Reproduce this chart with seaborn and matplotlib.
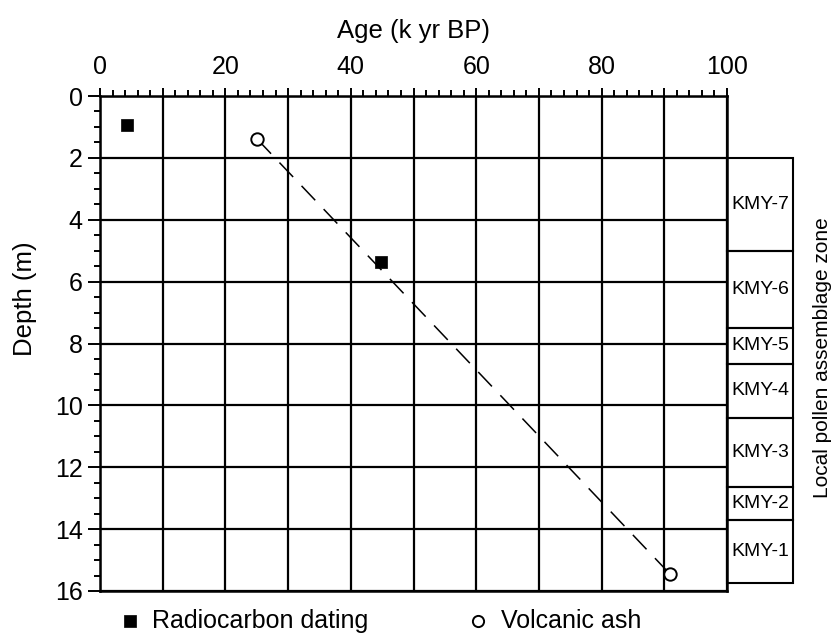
import numpy as np
import pandas as pd
import matplotlib
matplotlib.use("Agg")
import matplotlib.pyplot as plt
from matplotlib.ticker import MultipleLocator, FixedLocator
import seaborn as sns

# === Data ===
radiocarbon_age = [4.3, 44.8]
radiocarbon_depth = [0.95, 5.35]
ash_age = [25.1, 90.9]
ash_depth = [1.4, 15.45]

zone_names = ['KMY-7', 'KMY-6', 'KMY-5', 'KMY-4', 'KMY-3', 'KMY-2', 'KMY-1']
zone_tops = [2.0, 5.0, 7.5, 8.65, 10.4, 12.65, 13.7]
zone_bottoms = [5.0, 7.5, 8.65, 10.4, 12.65, 13.7, 15.75]

x_ticks = [0, 10, 20, 30, 40, 50, 60, 70, 80, 90, 100]
x_tick_labels = ['0', '', '20', '', '40', '', '60', '', '80', '', '100']
y_ticks = [0, 2, 4, 6, 8, 10, 12, 14, 16]

zones = pd.DataFrame({'zone': zone_names, 'top': zone_tops, 'bottom': zone_bottoms})
zones['mid'] = (zones['top'] + zones['bottom']) / 2
zones['height'] = zones['bottom'] - zones['top']

# === Plot Setup ===
sns.set_theme(style="white")
plt.rcParams['font.family'] = ['Liberation Sans', 'DejaVu Sans']
plt.rcParams.update({
    'axes.edgecolor': 'black',
    'axes.linewidth': 1.8,
    'text.color': 'black',
    'axes.labelcolor': 'black',
    'xtick.color': 'black',
    'ytick.color': 'black',
})

W, H = 836, 636
fig = plt.figure(figsize=(W / 100, H / 100), dpi=100)
L, R, T, B = 100, 727, 96, 591
ax = fig.add_axes([L / W, 1 - B / H, (R - L) / W, (B - T) / H])

# === Age-depth line and points ===
sns.lineplot(x=ash_age, y=ash_depth, color='black', lw=1.1,
             linestyle=(0, (13, 8)), ax=ax, zorder=3, sort=False)
sns.scatterplot(x=radiocarbon_age, y=radiocarbon_depth, marker='s', s=78,
                color='black', edgecolor='black', linewidth=0.5,
                label='Radiocarbon dating', ax=ax, zorder=4)
sns.scatterplot(x=ash_age, y=ash_depth, marker='o', s=80,
                color='white', edgecolor='black', linewidth=1.4,
                label='Volcanic ash', ax=ax, zorder=4)

# === Axes ===
ax.set_xlim(0, 100)
ax.set_ylim(16, 0)
ax.xaxis.tick_top()
ax.xaxis.set_major_locator(FixedLocator(x_ticks))
ax.set_xticklabels(x_tick_labels)
ax.xaxis.set_minor_locator(MultipleLocator(2))
ax.set_yticks(y_ticks)
ax.yaxis.set_minor_locator(MultipleLocator(0.5))
ax.tick_params(axis='x', which='both', direction='out', top=True, bottom=False,
               labelsize=18, pad=6, color='black', labelcolor='black', width=1.4)
ax.tick_params(axis='x', which='major', length=6)
ax.tick_params(axis='x', which='minor', length=4.5)
ax.tick_params(axis='y', which='both', direction='out', left=True,
               labelsize=18, pad=4, color='black', labelcolor='black', width=1.4)
ax.tick_params(axis='y', which='major', length=8.5)
ax.tick_params(axis='y', which='minor', length=4.5)
ax.grid(True, which='major', color='black', lw=1.6)
ax.set_axisbelow(True)

ax.set_xlabel('Age (k yr BP)', fontsize=18.5, color='black')
ax.xaxis.set_label_position('top')
ax.xaxis.set_label_coords(0.5, 1.117)
ax.set_ylabel('Depth (m)', fontsize=18.5, color='black')
ax.yaxis.set_label_coords(-0.1, 0.59)

# === Legend below the chart ===
ax.get_legend().remove()
handles, labels = ax.get_legend_handles_labels()
leg = fig.legend(handles, labels, loc='center', bbox_to_anchor=(0.455, 0.024),
                 ncol=2, frameon=False, fontsize=18, handlelength=0.8,
                 handletextpad=0.5, columnspacing=4.0, markerscale=0.9)
for t in leg.get_texts():
    t.set_color('black')

# === Local pollen assemblage zones column ===
zax = fig.add_axes([R / W, 1 - B / H, 66 / W, (B - T) / H])
zax.set_xlim(0, 1)
zax.set_ylim(16, 0)
zax.barh(y=zones['mid'], width=1, height=zones['height'], left=0,
         fill=False, edgecolor='black', lw=1.5, clip_on=False)
for _, row in zones.iterrows():
    zax.text(0.5, row['mid'], row['zone'], ha='center', va='center',
             fontsize=14, color='black')
zax.axis('off')

fig.text(822 / W, 1 - 358 / H, 'Local pollen assemblage zone', rotation=90,
         ha='center', va='center', fontsize=15, color='black')

plt.savefig('out.png', dpi=100)
